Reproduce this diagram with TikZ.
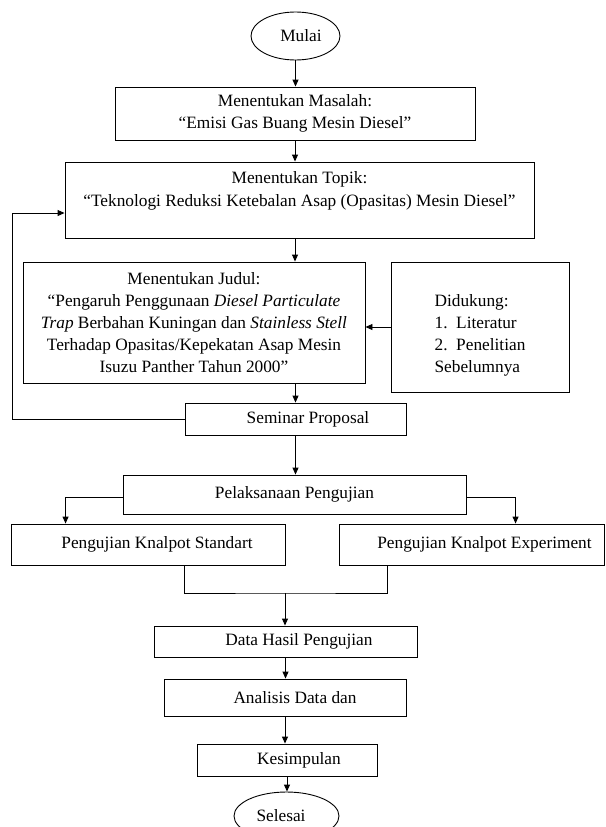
\documentclass[tikz,border=0pt]{standalone}
\usepackage{fontspec}
\setmainfont{Liberation Serif}
\usetikzlibrary{shapes.geometric}
\usetikzlibrary{arrows.meta}

\begin{document}
\begin{tikzpicture}[x=1pt, y=-1pt, font=\fontsize{17.3}{22.2}\selectfont,
  kotak/.style={draw, line width=0.9pt, inner sep=0pt, align=center},
  oval/.style={draw, ellipse, line width=0.9pt, inner sep=0pt},
  panah/.style={-{Triangle[length=7pt,width=6pt]}, line width=0.9pt},
  garis/.style={line width=0.9pt}]
  \useasboundingbox (0,0) rectangle (605,827);

  % Mulai
  \node[oval, minimum width=89pt, minimum height=48pt] (mulai) at (295.5,36) {\hspace*{11pt}Mulai};

  % Kotak bagian atas
  \node[kotak, minimum width=360pt, minimum height=53pt] (masalah) at (295,113.5)
    {Menentukan Masalah:\\“Emisi Gas Buang Mesin Diesel”};
  \node[kotak, minimum width=469pt, minimum height=76pt] (topik) at (299.5,200)
    {Menentukan Topik:\\“Teknologi Reduksi Ketebalan Asap (Opasitas) Mesin Diesel”\\~};
  \node[kotak, minimum width=342pt, minimum height=121pt] (judul) at (194,322.5)
    {Menentukan Judul:\\“Pengaruh Penggunaan \textit{Diesel Particulate}\\\textit{Trap} Berbahan Kuningan dan \textit{Stainless Stell}\\Terhadap Opasitas/Kepekatan Asap Mesin\\Isuzu Panther Tahun 2000”};
  \node[kotak, align=left, minimum width=178pt, minimum height=130pt] (dukung) at (480,327)
    {\rule{0pt}{29pt}Didukung:\\1.\ \ Literatur\\2.\ \ Penelitian\\Sebelumnya};
  \node[kotak, minimum width=221pt, minimum height=32pt] (seminar) at (295.5,419) {\hspace*{25pt}Seminar Proposal};

  % Pengujian
  \node[kotak, minimum width=343pt, minimum height=39pt] (pelaksanaan) at (294.5,494.5) {Pelaksanaan Pengujian};
  \node[kotak, minimum width=274pt, minimum height=41pt] (standart) at (148,544.5) {\hspace*{18pt}Pengujian Knalpot Standart};
  \node[kotak, minimum width=265pt, minimum height=41pt] (experiment) at (471.5,544.5) {\hspace*{26pt}Pengujian Knalpot Experiment};

  % Kotak bagian bawah
  \node[kotak, minimum width=263pt, minimum height=31pt] (data) at (285.5,641.5) {\hspace*{27pt}Data Hasil Pengujian};
  \node[kotak, minimum width=242pt, minimum height=37pt] (analisis) at (285,697.5) {\hspace*{20pt}Analisis Data dan};
  \node[kotak, minimum width=180pt, minimum height=32pt] (kesimpulan) at (287,760) {\hspace*{24pt}Kesimpulan};
  \node[oval, minimum width=105pt, minimum height=48pt] (selesai) at (286.5,816) {\hspace*{-11pt}Selesai};

  % Alur utama
  \draw[panah] (mulai.south) -- (mulai.south |- masalah.north);
  \draw[panah] (masalah.south) -- (masalah.south |- topik.north);
  \draw[panah] (masalah.south |- topik.south) -- (masalah.south |- judul.north);
  \draw[panah] (seminar.north |- judul.south) -- (seminar.north);
  \draw[panah] (dukung.west) -- (dukung.west -| judul.east);
  \draw[panah] (seminar.south) -- (seminar.south |- pelaksanaan.north);

  % Umpan balik ke topik
  \coordinate (balik) at (12,419);
  \draw[panah] (seminar.west) -- (balik) |- ([yshift=-13pt]topik.west);

  % Cabang pengujian
  \draw[panah] ([yshift=-2.5pt]pelaksanaan.west) -| ([xshift=55pt]standart.north west);
  \draw[panah] ([yshift=-2.5pt]pelaksanaan.east) -| ([xshift=177pt]experiment.north west);

  % Gabung hasil
  \coordinate (gabung) at (285,593);
  \draw[garis] ([xshift=174pt]standart.south west) |- (gabung) -| ([xshift=49pt]experiment.south west);
  \draw[panah] (gabung) -- (gabung |- data.north);
  \draw[panah] (data.south) -- (data.south |- analisis.north);
  \draw[panah] (analisis.south) -- (analisis.south |- kesimpulan.north);
  \draw[panah] (kesimpulan.south) -- (kesimpulan.south |- selesai.north);

\end{tikzpicture}
\end{document}
